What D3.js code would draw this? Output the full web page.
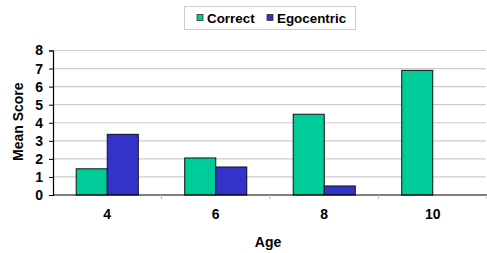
<!DOCTYPE html>
<html>
<head>
<meta charset="utf-8">
<script src="https://cdn.jsdelivr.net/npm/d3@7"></script>
<style>
  body { margin: 0; background: #fff; }
  text { font-family: "Liberation Sans", Arial, sans-serif; font-weight: bold; }
</style>
</head>
<body>
<svg width="487" height="253"></svg>
<script>
const ages = ["4", "6", "8", "10"];
const seriesNames = ["Correct", "Egocentric"];
const correct = [1.45, 2.05, 4.47, 6.9];
const egocentric = [3.36, 1.55, 0.5, 0];
const yTicks = [0, 1, 2, 3, 4, 5, 6, 7, 8];
const colors = ["#00CC99", "#3333CC"];

const svg = d3.select("svg");
const margin = { left: 53, right: 0, top: 50.5, bottom: 58 };
const width = 487 - margin.left - margin.right;
const height = 253 - margin.top - margin.bottom;

const g = svg.append("g").attr("transform", `translate(${margin.left},${margin.top})`);

const x0 = d3.scaleBand().domain(ages).range([0, width]).padding(0);
const bw = x0.bandwidth();
const x1 = d3.scaleBand().domain(seriesNames).range([bw * 0.214, bw * 0.786]).padding(0);
const y = d3.scaleLinear().domain([0, 8]).range([height, 0]);

// gridlines
g.selectAll(".grid").data(yTicks.filter(d => d > 0)).enter().append("line")
  .attr("x1", 0).attr("x2", width - 1)
  .attr("y1", d => y(d)).attr("y2", d => y(d))
  .attr("stroke", "#cccccc").attr("stroke-width", 1.2);

// bars
const rows = ages.map((a, i) => ({ age: a, vals: [correct[i], egocentric[i]] }));
g.selectAll(".grp").data(rows).enter().append("g")
  .attr("transform", d => `translate(${x0(d.age)},0)`)
  .selectAll("rect").data(d => d.vals.map((v, j) => ({ v, s: seriesNames[j], j })))
  .enter().filter(d => d.v > 0).append("rect")
  .attr("x", d => x1(d.s))
  .attr("width", x1.bandwidth())
  .attr("y", d => y(d.v))
  .attr("height", d => y(0) - y(d.v))
  .attr("fill", d => colors[d.j])
  .attr("stroke", "#111")
  .attr("stroke-width", 1);

// y axis
const yAxis = d3.axisLeft(y).tickValues(yTicks).tickSize(4).tickPadding(6);
const ya = g.append("g").call(yAxis);
ya.select(".domain").attr("stroke", "#000").attr("stroke-width", 1.2);
ya.selectAll(".tick line").attr("stroke", "#000");
ya.selectAll("text").attr("font-size", 14).attr("fill", "#000");

// x axis
const xa = g.append("g").attr("transform", `translate(0,${height})`);
xa.append("line").attr("x1", 0).attr("x2", width).attr("stroke", "#000").attr("stroke-width", 1.2);
xa.selectAll(".bt").data(ages).enter().append("line")
  .attr("x1", d => x0(d) + bw).attr("x2", d => x0(d) + bw)
  .attr("y1", 0).attr("y2", 4).attr("stroke", "#bbb");
xa.selectAll(".lbl").data(ages).enter().append("text")
  .attr("x", d => x0(d) + bw / 2).attr("y", 23.5)
  .attr("text-anchor", "middle").attr("font-size", 14).attr("fill", "#000")
  .text(d => d);

// axis titles
svg.append("text").attr("x", margin.left + width / 2 - 2).attr("y", 247)
  .attr("text-anchor", "middle").attr("font-size", 14).text("Age");
svg.append("text").attr("transform", `translate(23,121.7) rotate(-90)`)
  .attr("text-anchor", "middle").attr("font-size", 14).text("Mean Score");

// legend
const lg = svg.append("g");
lg.append("rect").attr("x", 184.5).attr("y", 6.5).attr("width", 171).attr("height", 23)
  .attr("fill", "#fff").attr("stroke", "#cccccc");
const items = [{ x: 197, name: seriesNames[0], c: colors[0] }, { x: 267, name: seriesNames[1], c: colors[1] }];
items.forEach(it => {
  lg.append("rect").attr("x", it.x).attr("y", 14.5).attr("width", 6).attr("height", 6)
    .attr("fill", it.c).attr("stroke", "#333").attr("stroke-width", 0.8);
  lg.append("text").attr("x", it.x + 10).attr("y", 23).attr("font-size", 13.4).text(it.name);
});
</script>
</body>
</html>
